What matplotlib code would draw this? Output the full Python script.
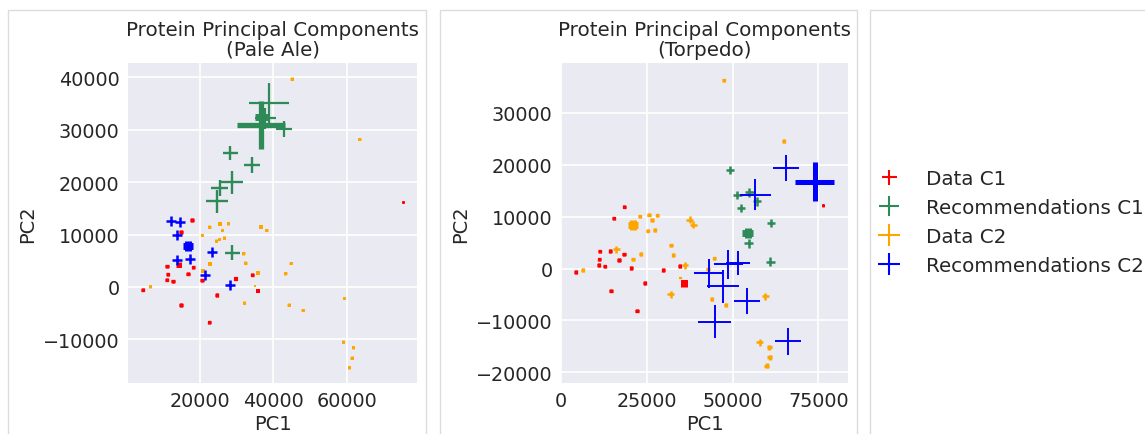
import matplotlib
matplotlib.use('Agg')
import matplotlib.pyplot as plt
from matplotlib.lines import Line2D
from matplotlib.patches import Rectangle

# ---- Pale Ale panel ----
pa_d1_x = [17814, 14807, 14170, 10981, 18178, 11163, 16720, 10890, 12621, 20547, 29839, 34303, 24555, 35851, 4331, 14807, 22551, 75389]
pa_d1_y = [12784, 10494, 4261, 3943, 3752, 2417, 2544, 1399, 1081, 1272, 1526, 2353, -1526, -763, -509, -3434, -6742, 16218]
pa_d1_s = [6, 6, 16, 6, 6, 6, 6, 6, 6, 6, 9, 6, 6, 8, 6, 6, 6, 3]
pa_d1_lw = [2.4, 2.4, 3.6, 2.4, 2.4, 2.4, 2.4, 2.4, 2.4, 2.4, 3, 2.4, 2.4, 2.8, 2.4, 2.4, 2.4, 1.8]

pa_r1_x = [36762, 36907, 38858, 37856, 42957, 28290, 34212, 28655, 25375, 24646, 28837]
pa_r1_y = [30910, 32380, 35044, 32182, 30146, 25567, 23278, 19970, 18889, 16345, 6551]
pa_r1_s = [1195, 88, 858, 236, 122, 112, 144, 282, 144, 266, 112]
pa_r1_lw = [3.8, 5, 1.6, 1.6, 1.6, 1.7, 1.7, 1.7, 1.7, 1.7, 1.7]

pa_d2_x = [45053, 63455, 22551, 25375, 27652, 26013, 20547, 24373, 25193, 26559, 36580, 38038, 31843, 32390, 44688,
           22824, 20729, 35851, 43231, 6335, 35031, 32025, 44232, 48059, 59264, 58991, 61724, 61360, 60631]
pa_d2_y = [39750, 28238, 11512, 11957, 12148, 10876, 9922, 8840, 9158, 9413, 11384, 10876, 6424, 4643, 4579,
           4452, 2989, 2608, 2608, 127, 127, -2989, -3371, -4388, -2099, -10494, -11512, -13483, -15328]
pa_d2_s = [4, 4, 4, 8, 4, 4, 4, 4, 4, 4, 8, 4, 4, 4, 4, 8, 8, 8, 4, 4, 2, 4, 4, 4, 4, 4, 4, 4, 4]
pa_d2_lw = [2, 2, 2, 2.7, 2, 2, 2, 2, 2, 2, 2.7, 2, 2, 2, 2, 2.7, 2.7, 2.7, 2, 2,
            1.4, 2, 2, 2, 2, 2, 2, 2, 2]

pa_r2_x = [12165, 14534, 13714, 16720, 23280, 13623, 17267, 21275, 28108]
pa_r2_y = [12529, 12402, 9922, 7759, 6614, 5088, 5279, 2353, 318]
pa_r2_s = [52, 52, 52, 52, 52, 52, 52, 52, 52]
pa_r2_lw = [1.8, 1.8, 1.8, 5, 1.8, 1.8, 1.8, 1.8, 1.8]

# ---- Torpedo panel ----
tp_d1_x = [18508, 15310, 11240, 14341, 18314, 11143, 16860, 10950, 12694, 20543, 29845, 34593, 35853, 24419, 14632, 22190, 4263, 76357]
tp_d1_y = [11931, 9698, 3318, 3381, 2743, 1786, 1659, 702, 447, 128, -255, 510, -2871, -2807, -4275, -8103, -638, 12186]
tp_d1_s = [6, 6, 6, 6, 6, 6, 6, 6, 6, 6, 6, 6, 25, 6, 6, 6, 6, 3]
tp_d1_lw = [2.4, 2.4, 2.4, 2.4, 2.4, 2.4, 2.4, 2.4, 2.4, 2.4, 2.4, 2.4, 5, 2.4, 2.4, 2.4, 2.4, 1.8]

tp_r1_x = [49225, 51357, 54845, 52423, 57171, 61241, 54361, 54749, 61047]
tp_r1_y = [19012, 14164, 14674, 11675, 12951, 8804, 6763, 4849, 1340]
tp_r1_s = [39, 39, 39, 39, 39, 39, 52, 39, 39]
tp_r1_lw = [1.8, 1.8, 1.8, 1.8, 1.8, 1.8, 5, 1.8, 1.8]

tp_d2_x = [47384, 64923, 21124, 22965, 25678, 28101, 26550, 25291, 27326, 37500, 38566, 16085, 23256, 21027, 32074,
           32753, 44671, 36144, 6298, 42830, 34884, 31977, 43896, 47966, 59496, 57946, 60756, 60853, 59981]
tp_d2_y = [36302, 24627, 8358, 10080, 10399, 10272, 9379, 7337, 7401, 9379, 8485, 3700, 2807, 1786, 4466,
           2616, 1978, 638, -255, -128, -1850, -4976, -5870, -7018, -5295, -14164, -15185, -17098, -18757]
tp_d2_s = [6, 6, 52, 6, 6, 6, 6, 6, 6, 25, 25, 25, 6, 6, 6, 6, 6, 25, 6, 6, 3, 25, 6, 6, 25, 25, 14, 14, 14]
tp_d2_lw = [2.4, 2.4, 5, 2.4, 2.4, 2.4, 2.4, 2.4, 2.4, 1.8, 1.8, 1.8, 2.4, 2.4, 2.4, 2.4, 2.4, 1.8, 2.4, 2.4,
            1.6, 1.8, 2.4, 2.4, 1.8, 1.8, 2.4, 2.4, 2.4]

tp_r2_x = [73925, 65495, 56687, 48721, 51454, 43111, 47268, 54245, 44855, 66163]
tp_r2_y = [16784, 19467, 14236, 824, 1015, -900, -3449, -6265, -10231, -13987]
tp_r2_s = [788, 350, 498, 436, 298, 436, 548, 364, 565, 377]
tp_r2_lw = [3.6, 1.4, 1.4, 1.4, 1.4, 1.4, 1.4, 1.4, 1.4, 1.4]

labels = ['Data C1', 'Recommendations C1', 'Data C2', 'Recommendations C2']
colors = ['red', '#2e8b57', 'orange', 'blue']

plt.rcParams['font.family'] = 'DejaVu Sans'
plt.rcParams['text.color'] = '#262626'
plt.rcParams['axes.labelcolor'] = '#262626'
plt.rcParams['xtick.color'] = '#262626'
plt.rcParams['ytick.color'] = '#262626'

fig = plt.figure(figsize=(11.45, 4.35), dpi=100)
W, H = 1145, 435

# light panel borders
for x0, x1 in [(8, 426), (440, 857), (870, 1160)]:
    fig.patches.append(Rectangle((x0 / W, -0.1), (x1 - x0) / W, (H - 11) / H + 0.1,
                                 transform=fig.transFigure, fill=False,
                                 edgecolor='#dcdcdc', lw=1))

ax1 = fig.add_axes([128 / W, 51 / H, 289 / W, 320 / H])
ax2 = fig.add_axes([561 / W, 51 / H, 287.3 / W, 320 / H])

panels = [
    (ax1, 'Pale Ale', [(pa_d1_x, pa_d1_y, pa_d1_s, pa_d1_lw), (pa_r1_x, pa_r1_y, pa_r1_s, pa_r1_lw),
                       (pa_d2_x, pa_d2_y, pa_d2_s, pa_d2_lw), (pa_r2_x, pa_r2_y, pa_r2_s, pa_r2_lw)],
     (350, 79200), (-18340, 42730)),
    (ax2, 'Torpedo', [(tp_d1_x, tp_d1_y, tp_d1_s, tp_d1_lw), (tp_r1_x, tp_r1_y, tp_r1_s, tp_r1_lw),
                      (tp_d2_x, tp_d2_y, tp_d2_s, tp_d2_lw), (tp_r2_x, tp_r2_y, tp_r2_s, tp_r2_lw)],
     (0, 83740), (-22060, 39630)),
]

for ax, name, series, xl, yl in panels:
    ax.set_facecolor('#eaeaf2')
    for sp in ax.spines.values():
        sp.set_visible(False)
    ax.grid(True, color='white', lw=1.2)
    ax.set_axisbelow(True)
    for (xs, ys, ss, lws), c in zip(series, colors):
        ax.scatter(xs, ys, s=ss, linewidths=lws, c=c, marker='+')
    ax.set_xlim(*xl)
    ax.set_ylim(*yl)
    ax.tick_params(length=0, labelsize=13.8, pad=6)
    ax.set_xlabel('PC1', fontsize=14, labelpad=3)
    ax.set_ylabel('PC2', fontsize=14, labelpad=4)
    ax.set_title('Protein Principal Components\n(%s)' % name, fontsize=14.3, pad=6, linespacing=1.05)

ax2.set_xticks([0, 25000, 50000, 75000])

handles = [Line2D([], [], ls='none', marker='+', color=c, markersize=ms, markeredgewidth=1.5)
           for c, ms in zip(colors, [10.8, 13.7, 15.8, 15.8])]
fig.legend(handles, labels, loc='center left', bbox_to_anchor=(869 / W, 0.487),
           frameon=False, fontsize=14.3, handletextpad=0.85, labelspacing=0.5,
           borderpad=0, borderaxespad=0, handlelength=2.0)

fig.savefig('out.png', dpi=100)
